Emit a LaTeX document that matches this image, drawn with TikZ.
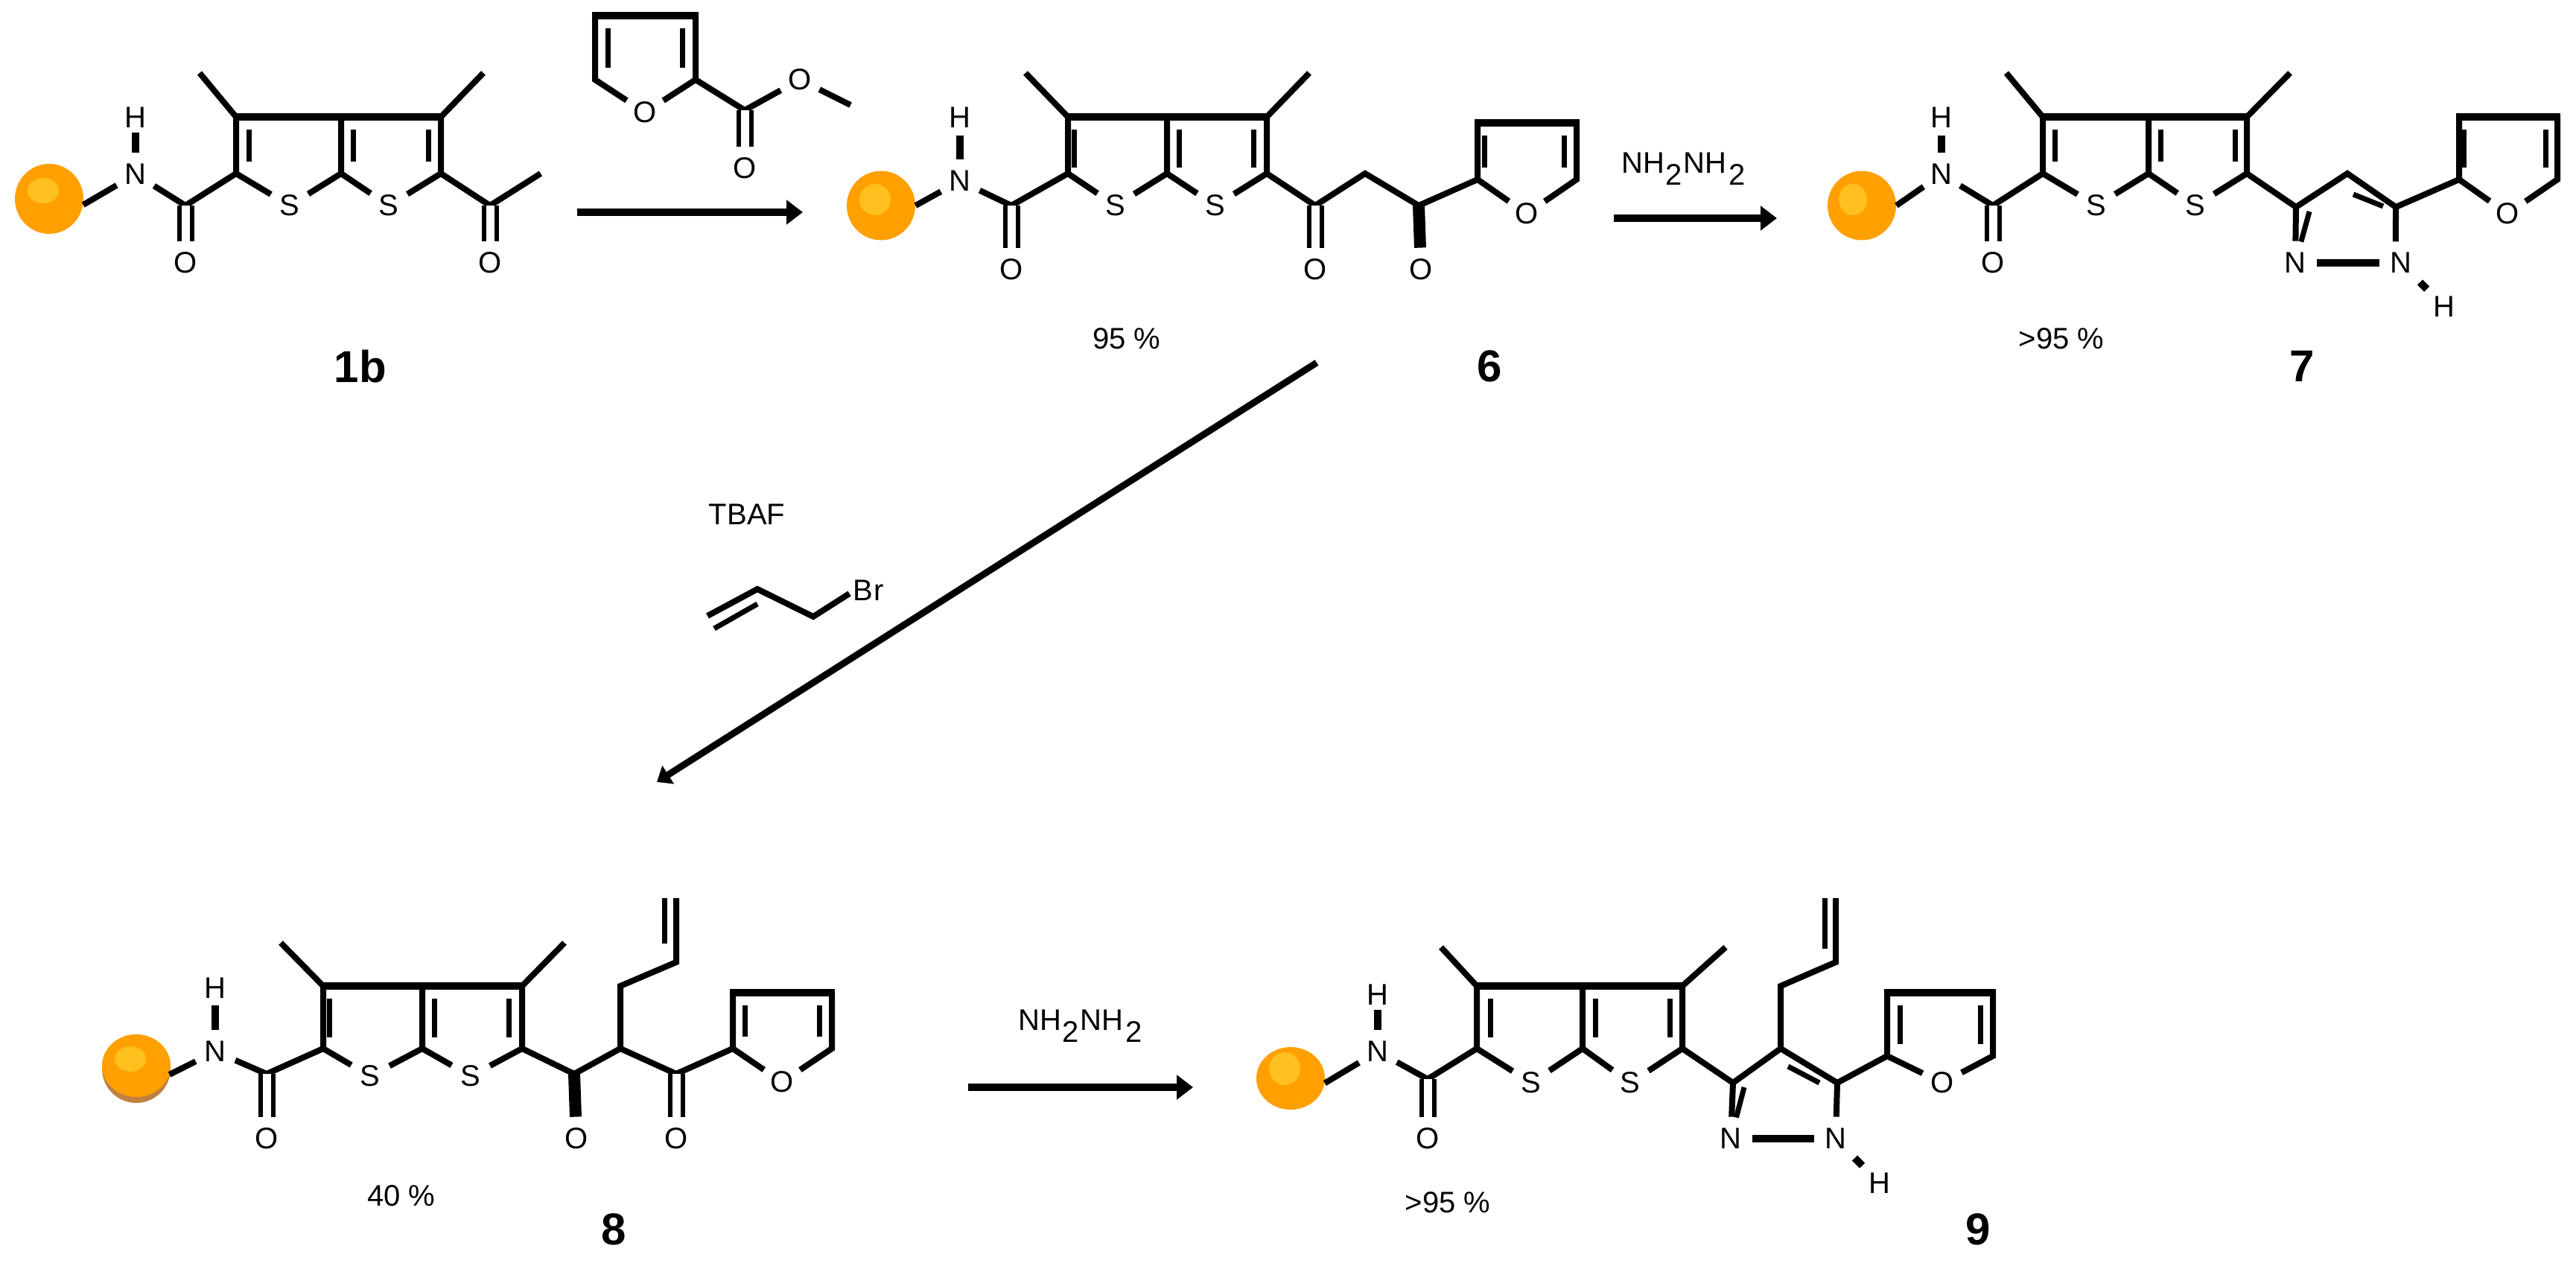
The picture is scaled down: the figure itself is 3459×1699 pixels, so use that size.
\documentclass[tikz,border=0pt]{standalone}
\usepackage{fontspec}
\setmainfont{Liberation Sans}
\usetikzlibrary{arrows.meta,shapes.geometric}

\definecolor{beadorange}{HTML}{FFA000}
\definecolor{beadshine}{HTML}{FFC020}
\definecolor{beadshadow}{HTML}{C08040}

\newcommand{\ringat}[6]{
  \coordinate (#1tl) at (#2,#5); \coordinate (#1tm) at (#3,#5); \coordinate (#1tr) at (#4,#5);
  \coordinate (#1bl) at (#2,#6); \coordinate (#1bm) at (#3,#6); \coordinate (#1br) at (#4,#6);
}
\newcommand{\scaffold}[5]{
  \draw [bond] (#1ml) -- (#1tl) -- (#1bl) -- (#1C) -- (#1N);
  \draw [bond] (#1bl) -- (#1Sa);
  \draw [bond] (#1Sa) -- (#1bm) -- (#1tm);
  \draw [bond] (#1bm) -- (#1Sb);
  \draw [bond] (#1Sb) -- (#1br) -- (#1tr) -- (#1mr);
  \draw [heavy] (#1tl) -- (#1tr);
  \draw [heavy] (#1N) -- (#1H);
  \draw [dbl] (#1C) -- (#1O);
  \draw [inner] ([shift={(#2,17)}]#1tl) -- ([shift={(#2,#5)}]#1bl);
  \draw [inner] ([shift={(#3,17)}]#1tm) -- ([shift={(#3,#5)}]#1bm);
  \draw [inner] ([shift={(#4,17)}]#1tr) -- ([shift={(#4,#5)}]#1br);
}
\newcommand{\furanat}[5]{
  \coordinate (#1ftl) at (#2,#4); \coordinate (#1ftr) at (#3,#4);
  \coordinate (#1fbl) at (#2,#5); \coordinate (#1fbr) at (#3,#5);
}
\newcommand{\furan}[3]{
  \draw [bond] (#1fO) -- (#1fbl) -- (#1ftl);
  \draw [bond] (#1ftr) -- (#1fbr) -- (#1fO);
  \draw [heavy] ([xshift=-2pt]#1ftl) -- ([xshift=2pt]#1ftr);
  \draw [inner] ([shift={(#2,17)}]#1ftl) -- ([shift={(#2,-16)}]#1fbl);
  \draw [inner] ([shift={(#3,17)}]#1ftr) -- ([shift={(#3,-16)}]#1fbr);
}
\newcommand{\hydrazine}{NH\kern.8pt\raisebox{-8pt}{2}\kern.8pt NH\kern1.5pt\raisebox{-8pt}{2}}

\begin{document}
\begin{tikzpicture}[
  x = 0.5pt, y = -0.5pt,
  bond/.style = {line width = 4pt},
  heavy/.style = {line width = 5pt},
  inner/.style = {line width = 3.5pt},
  stem/.style = {line width = 8pt},
  dbl/.style = {line width = 3pt, double = white, double distance = 5.5pt},
  rxn/.style = {line width = 5pt, -{Triangle[length = 11pt, width = 16pt]}},
  atom/.style = {circle, minimum size = 29pt, inner sep = 0pt,
    font = \fontsize{20}{24}\selectfont},
  note/.style = {inner sep = 0pt, font = \fontsize{20}{24}\selectfont},
  tag/.style = {inner sep = 0pt, font = \fontsize{30}{36}\selectfont\bfseries},
  ball/.style = {ellipse, fill = beadorange, inner sep = 0pt, minimum width = 46pt},
  shine/.style = {ellipse, fill = beadshine, inner sep = 0pt}
  ]
  \useasboundingbox (0,0) rectangle (3459,1699);

  % 1b
  \ringat{a}{317}{458}{592}{157}{233}
  \coordinate (aC) at (249,276); \coordinate (ak) at (658,276);
  \coordinate (aml) at (268,98); \coordinate (amr) at (649,98); \coordinate (ame) at (726,233);
  \node [ball, minimum height = 47pt] (aball) at (66,267) {};
  \node [shine, minimum width = 21pt, minimum height = 17pt] (ashine) at (58,256) {};
  \node [atom] (aN) at (182,234) {N};
  \node [atom, minimum size = 16pt] (aH) at (182,158) {H};
  \node [atom] (aO) at (249,353) {O};
  \node [atom] (aSa) at (389,276) {S};
  \node [atom] (aSb) at (522,276) {S};
  \node [atom] (aOk) at (658,353) {O};
  \draw [bond] (aball.-10) -- (aN);
  \scaffold{a}{17}{16}{-17}{-16}
  \draw [bond] (abr) -- (ak) -- (ame);
  \draw [dbl] (ak) -- (aOk);
  \node [tag] (tag1b) at (484,492) {1b};

  % furan ester
  \furanat{r}{799}{934}{21}{107}
  \coordinate (rC) at (1000,148); \coordinate (rMe) at (1142,141);
  \node [atom] (rfO) at (866,151) {O};
  \node [atom] (rOa) at (1000,226) {O};
  \node [atom] (rOb) at (1074,107) {O};
  \furan{r}{17}{-18}
  \draw [bond] (rfbr) -- (rC) -- (rOb);
  \draw [bond] (rOb) -- (rMe);
  \draw [dbl] (rC) -- (rOa);

  % 6
  \ringat{b}{1434}{1567}{1701}{157}{233}
  \coordinate (bC) at (1358,276); \coordinate (bka) at (1766,276);
  \coordinate (bch) at (1833,233); \coordinate (bkb) at (1905,276);
  \coordinate (bml) at (1377,98); \coordinate (bmr) at (1758,98);
  \furanat{b}{1984}{2117}{165}{241}
  \node [ball, minimum height = 46.5pt] (bball) at (1183,276) {};
  \node [shine, minimum width = 21pt, minimum height = 21pt] (bshine) at (1175,268) {};
  \node [atom] (bN) at (1289,243) {N};
  \node [atom, minimum size = 24pt] (bH) at (1289,158) {H};
  \node [atom] (bO) at (1358,362) {O};
  \node [atom] (bSa) at (1498,276) {S};
  \node [atom] (bSb) at (1632,276) {S};
  \node [atom] (bOa) at (1766,362) {O};
  \node [atom] (bOb) at (1908,362) {O};
  \node [atom] (bfO) at (2050,287) {O};
  \draw [bond] (bball.0) -- (bN);
  \scaffold{b}{8}{16}{-18}{-8}
  \draw [bond] (bbr) -- (bka) -- (bch) -- (bkb) -- (bfbl);
  \draw [dbl] (bka) -- (bOa);
  \draw [stem] (bkb) -- (bOb);
  \furan{b}{9}{-17}
  \node [note] (yield6) at (1513,455) {95 \%};
  \node [tag] (tag6) at (2000,492) {6};

  % 7
  \ringat{c}{2743}{2885}{3017}{157}{233}
  \coordinate (cC) at (2676,276); \coordinate (cpa) at (3083,278);
  \coordinate (cpb) at (3152,233); \coordinate (cpc) at (3217,278);
  \coordinate (cml) at (2694,98); \coordinate (cmr) at (3075,98);
  \furanat{c}{3302}{3434}{157}{241}
  \node [ball, minimum height = 46.5pt] (cball) at (2500,276) {};
  \node [shine, minimum width = 19pt, minimum height = 21pt] (cshine) at (2488,268) {};
  \node [atom] (cN) at (2607,234) {N};
  \node [atom, minimum size = 24pt] (cH) at (2607,158) {H};
  \node [atom] (cO) at (2676,353) {O};
  \node [atom] (cSa) at (2815,276) {S};
  \node [atom] (cSb) at (2948,276) {S};
  \node [atom] (cNa) at (3082,353) {N};
  \node [atom] (cNb) at (3224,353) {N};
  \node [atom] (cHb) at (3282,412) {H};
  \node [atom] (cfO) at (3367,287) {O};
  \draw [bond] (cball.0) -- (cN);
  \scaffold{c}{16}{16}{-16}{-16}
  \draw [bond] (cbr) -- (cpa) -- (cpb) -- (cpc) -- (cNb.104);
  \draw [bond] (cpa) -- (cNa);
  \draw [bond] (cpc) -- (cfbl);
  \draw [heavy] (cNa) -- (cNb);
  \draw [heavy, shorten <= 3.5pt, shorten >= 2pt] (cNb) -- (cHb);
  \draw [inner] ([shift={(8,28)}]cpb) -- ([shift={(-17,-1)}]cpc);
  \draw [inner] ([shift={(18,6)}]cpa) -- ([shift={(19,-27)}]cNa);
  \furan{c}{6}{-16}
  \node [note] (yield7) at (2768,455) {>95 \%};
  \node [tag] (tag7) at (3091,492) {7};

  % first row arrows
  \coordinate (arrAs) at (775,285); \coordinate (arrAe) at (1078,285);
  \coordinate (arrBs) at (2167,293); \coordinate (arrBe) at (2386,293);
  \coordinate (arrCs) at (1768,487); \coordinate (arrCe) at (882,1050);
  \draw [rxn] (arrAs) -- (arrAe);
  \draw [rxn] (arrBs) -- (arrBe);
  \draw [line width = 4.5pt, -{Triangle[length = 9pt, width = 14pt]}] (arrCs) -- (arrCe);
  \node [note, anchor = base west] (hydA) at (2177,232) {\hydrazine};

  % TBAF, allyl bromide
  \node [note] (tbaf) at (1003,691) {TBAF};
  \node [note] (brom) at (1166,793) {B\kern1pt r};
  \coordinate (ga) at (950,827); \coordinate (gb) at (1017,791); \coordinate (gc) at (1092,828);
  \draw [bond] (ga) -- (gb) -- (gc) -- ([shift={(-4,4)}]brom.west);
  \draw [inner] ([shift={(9,17)}]ga) -- ([shift={(0,20)}]gb);

  % 8
  \ringat{d}{434}{567}{701}{1324}{1408}
  \coordinate (dC) at (358,1442); \coordinate (dka) at (771,1442);
  \coordinate (dch) at (833,1408); \coordinate (dkb) at (908,1442);
  \coordinate (dml) at (377,1266); \coordinate (dmr) at (758,1266);
  \coordinate (dva) at (833,1324); \coordinate (dvb) at (908,1292); \coordinate (dvc) at (908,1206);
  \furanat{d}{984}{1117}{1333}{1408}
  \node [ball, fill = beadshadow, minimum height = 46pt] (dshade) at (183,1435) {};
  \node [ball, minimum height = 42pt] (dball) at (183,1431) {};
  \node [shine, minimum width = 21pt, minimum height = 17pt] (dshine) at (175,1422) {};
  \node [atom] (dN) at (289,1412) {N};
  \node [atom, minimum size = 23pt] (dH) at (289,1327) {H};
  \node [atom] (dO) at (358,1529) {O};
  \node [atom] (dSa) at (497,1445) {S};
  \node [atom] (dSb) at (632,1445) {S};
  \node [atom] (dOa) at (774,1529) {O};
  \node [atom] (dOb) at (908,1529) {O};
  \node [atom] (dfO) at (1050,1453) {O};
  \draw [bond] (dball.-15) -- (dN);
  \scaffold{d}{8}{16}{-18}{-15}
  \draw [bond] (dbr) -- (dka) -- (dch) -- (dkb) -- (dfbl);
  \draw [bond] (dch) -- (dva) -- (dvb) -- (dvc);
  \draw [inner] ([shift={(-16,0)}]dvc) -- ([shift={(-16,-25)}]dvb);
  \draw [stem] (dka) -- (dOa);
  \draw [dbl] (dkb) -- (dOb);
  \furan{d}{16}{-17}
  \node [note] (yield8) at (539,1606) {40 \%};
  \node [tag] (tag8) at (824,1651) {8};

  % second row arrow
  \coordinate (arrDs) at (1300,1460); \coordinate (arrDe) at (1602,1460);
  \draw [rxn] (arrDs) -- (arrDe);
  \node [note, anchor = base west] (hydB) at (1367,1383) {\hydrazine};

  % 9
  \ringat{e}{1983}{2125}{2259}{1324}{1408}
  \coordinate (eC) at (1917,1449); \coordinate (epa) at (2327,1454);
  \coordinate (epb) at (2391,1408); \coordinate (epc) at (2467,1454);
  \coordinate (eml) at (1935,1272); \coordinate (emr) at (2317,1272);
  \coordinate (eva) at (2391,1324); \coordinate (evb) at (2465,1292); \coordinate (evc) at (2465,1206);
  \furanat{e}{2534}{2676}{1333}{1418}
  \node [ball, minimum height = 42pt] (eball) at (1733,1448) {};
  \node [shine, minimum width = 21pt, minimum height = 22pt] (eshine) at (1725,1435) {};
  \node [atom] (eN) at (1850,1412) {N};
  \node [atom, minimum size = 14pt] (eH) at (1850,1336) {H};
  \node [atom] (eO) at (1917,1529) {O};
  \node [atom] (eSa) at (2056,1454) {S};
  \node [atom] (eSb) at (2189,1454) {S};
  \node [atom] (eNa) at (2324,1529) {N};
  \node [atom] (eNb) at (2465,1529) {N};
  \node [atom] (eHb) at (2524,1589) {H};
  \node [atom] (efO) at (2608,1454) {O};
  \draw [bond] (eball.-8) -- (eN);
  \scaffold{e}{18}{17}{-17}{-15}
  \draw [bond] (ebr) -- (epa) -- (epb) -- (epc) -- (eNb);
  \draw [bond] (epa) -- (eNa);
  \draw [bond] (epc) -- (efbl);
  \draw [bond] (epb) -- (eva) -- (evb) -- (evc);
  \draw [inner] ([shift={(-15,0)}]evc) -- ([shift={(-15,-18)}]evb);
  \draw [heavy] (eNa) -- (eNb);
  \draw [heavy, shorten <= 3.5pt, shorten >= 2pt] (eNb) -- (eHb);
  \draw [inner] ([shift={(10,24)}]epb) -- ([shift={(-24,0)}]epc);
  \draw [inner] ([shift={(15,6)}]epa) -- ([shift={(18,-24)}]eNa);
  \furan{e}{17}{-17}
  \node [note] (yield9) at (1944,1615) {>95 \%};
  \node [tag] (tag9) at (2656,1651) {9};
\end{tikzpicture}
\end{document}
